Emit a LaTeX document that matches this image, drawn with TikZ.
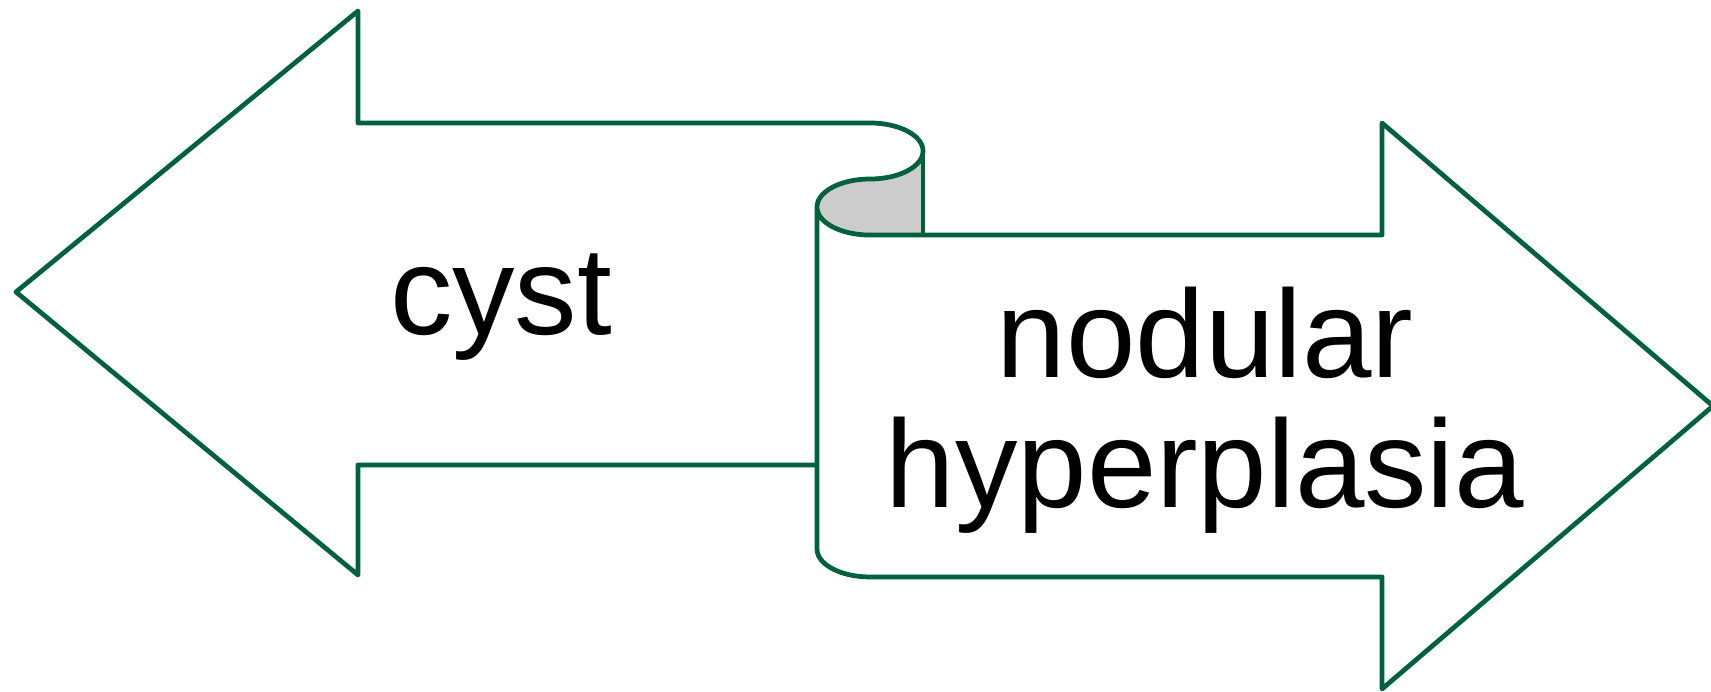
\documentclass[tikz,border=0pt]{standalone}
\usepackage{fontspec}
\setmainfont{Liberation Sans}
\usepackage{xcolor}
\definecolor{outline}{RGB}{0,97,60}
\definecolor{curlgray}{RGB}{204,204,204}
\usepackage{tikz}
\usetikzlibrary{positioning}

\tikzset{
    arrowline/.style={draw=outline, line width=1.35pt, line join=round},
    bigtext/.style={font=\fontsize{35.5}{37}\selectfont, text=black, inner sep=0pt}
}

\begin{document}
\begin{tikzpicture}[x=0.01cm, y=0.01cm]
        \useasboundingbox (0,0) rectangle (1711,692);

        % Curl on the ribbon (shaded underside)
        \fill[curlgray] (923,541) arc[start angle=0, end angle=-90, x radius=0.53cm, y radius=0.28cm]
            arc[start angle=90, end angle=270, x radius=0.53cm, y radius=0.28cm] -- (923,457) -- cycle;

        % Left arrow, curl, right arrow as one outline
        \draw[arrowline] (817,227) -- (358,227) -- (358,117) -- (16,400) -- (358,681) -- (358,569) -- (870,569)
            arc[start angle=90, end angle=-90, x radius=0.53cm, y radius=0.28cm]
            arc[start angle=90, end angle=270, x radius=0.53cm, y radius=0.28cm]
            -- (1382,457) -- (1382,569) -- (1713,286) -- (1382,3) -- (1382,115) -- (870,115)
            arc[start angle=270, end angle=180, x radius=0.53cm, y radius=0.28cm] -- (817,485);
        \draw[arrowline] (923,541) -- (923,457);

        % Labels
        \node[bigtext, anchor=base] (cyst) at (501,357) {cyst};
        \node[bigtext, align=center] (nodhyp) at (1205,282) {nodular\\hyperplasia};
\end{tikzpicture}
\end{document}
